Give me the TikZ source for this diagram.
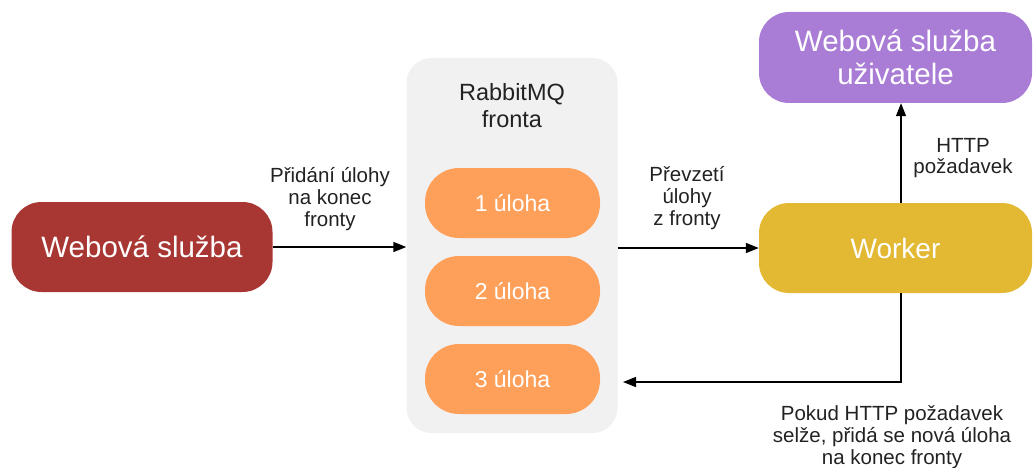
\documentclass[tikz,border=0pt]{standalone}
\usepackage{fontspec}
\setmainfont{Liberation Sans}
\usepackage{xcolor}
\usepackage{tikz}
\usetikzlibrary{arrows.meta}
\definecolor{webred}{HTML}{A83632}
\definecolor{joborange}{HTML}{FFA05A}
\definecolor{userpurple}{HTML}{A97CD6}
\definecolor{workeryellow}{HTML}{E3B832}
\definecolor{queuegray}{HTML}{F1F1F1}
\definecolor{labelgray}{HTML}{222222}
\tikzstyle{box}= [rectangle, rounded corners=30pt, minimum width=273pt, minimum height=90pt, inner sep=0pt, text=white, align=center, font=\fontsize{29.5}{32.5}\selectfont]
\tikzstyle{job}= [rectangle, rounded corners=34pt, fill=joborange, minimum width=175pt, minimum height=70pt, inner sep=0pt, text=white, font=\fontsize{23}{27}\selectfont]
\tikzstyle{lbl}= [align=center, text=labelgray, font=\fontsize{20.5}{21.8}\selectfont]
\tikzstyle{arr}= [-{Triangle[length=13pt,width=10pt]}, line width=1.4pt, draw=black]

\begin{document}
\begin{tikzpicture}[x=1pt, y=-1pt]
				\useasboundingbox (0,0) rectangle (1035,468);
				\node[box, fill=webred, minimum width=261pt] (web) at (142,247) {Webová služba};
				\node[rectangle, rounded corners=25pt, fill=queuegray, minimum width=211pt, minimum height=375pt] (queue) at (512,245.5) {};
				\node[align=center, text=labelgray, font=\fontsize{23.5}{27}\selectfont] (qtitle) at (512,106) {RabbitMQ\\fronta};
				\node[job] (job1) at (512.5,203) {1 úloha};
				\node[job] (job2) at (512.5,291) {2 úloha};
				\node[job] (job3) at (512.5,379) {3 úloha};
				\node[box, fill=workeryellow, font=\fontsize{28}{32}\selectfont] (worker) at (895.5,248) {Worker};
				\node[box, fill=userpurple, minimum height=91pt] (user) at (895.5,57.5) {Webová služba\\uživatele};

				\coordinate (riser) at (901,0);
				\coordinate (back) at (623,382);

				\draw[arr] (web.east) -- (web.east -| queue.west);
				\draw[arr] (queue.east |- worker.west) -- (worker.west);
				\draw[arr] (worker.north -| riser) -- (user.south -| riser);
				\draw[arr] (worker.south -| riser) |- (back);

				\node[lbl] (addlbl) at (330,199) {Přidání úlohy\\na konec\\fronty};
				\node[lbl] (takelbl) at (687,198) {Převzetí\\úlohy\\z fronty};
				\node[lbl] (httplbl) at (963,158) {HTTP\\požadavek};
				\node[lbl] (faillbl) at (892,437) {Pokud HTTP požadavek\\selže, přidá se nová úloha\\na konec fronty};
			\end{tikzpicture}
\end{document}
